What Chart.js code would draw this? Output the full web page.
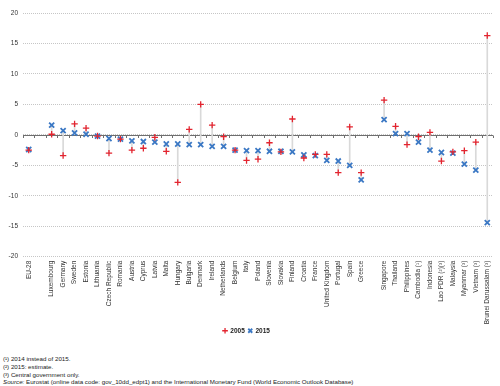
<!DOCTYPE html>
<html>
<head>
<meta charset="utf-8">
<script src="https://cdn.jsdelivr.net/npm/chart.js"></script>
<style>
  body { margin: 0; background: #fff; }
  #wrap { position: relative; width: 500px; height: 386px; font-family: Arial, "Liberation Sans", sans-serif; }
  #box { position: absolute; left: 0; top: 0; width: 500px; height: 344px; }
  .note { position: absolute; left: 3px; font-size: 6.2px; color: #222; white-space: nowrap; }
</style>
</head>
<body>
<div id="wrap">
  <div id="box"><canvas id="chart"></canvas></div>
  <div class="note" style="top:355px">(¹) 2014 instead of 2015.</div>
  <div class="note" style="top:363px">(²) 2015: estimate.</div>
  <div class="note" style="top:370.5px">(³) Central government only.</div>
  <div class="note" style="top:378px"><i>Source:</i> Eurostat (online data code: gov_10dd_edpt1) and the International Monetary Fund (World Economic Outlook Database)</div>
</div>
<script>
// categories, with blank slots separating the groups
const categories = ['EU-28', '', 'Luxembourg', 'Germany', 'Sweden', 'Estonia', 'Lithuania', 'Czech Republic',
  'Romania', 'Austria', 'Cyprus', 'Latvia', 'Malta', 'Hungary', 'Bulgaria', 'Denmark', 'Ireland', 'Netherlands',
  'Belgium', 'Italy', 'Poland', 'Slovenia', 'Slovakia', 'Finland', 'Croatia', 'France', 'United Kingdom',
  'Portugal', 'Spain', 'Greece', ' ', 'Singapore', 'Thailand', 'Philippines', 'Cambodia (¹)', 'Indonesia',
  'Lao PDR (²)(³)', 'Malaysia', 'Myanmar (³)', 'Vietnam (³)', 'Brunei Darussalam (³)'];

const values2005 = [-2.5, null, 0.1, -3.4, 1.8, 1.1, -0.2, -3.0, -0.7, -2.5, -2.2, -0.4, -2.7, -7.8, 0.9, 5.0,
  1.6, -0.3, -2.5, -4.2, -4.0, -1.3, -2.8, 2.6, -3.8, -3.2, -3.2, -6.2, 1.3, -6.2, null, 5.7, 1.4, -1.6, -0.3,
  0.4, -4.3, -2.8, -2.6, -1.2, 16.3];

const values2015 = [-2.4, null, 1.6, 0.7, 0.3, 0.1, -0.2, -0.6, -0.7, -1.0, -1.1, -1.2, -1.5, -1.5, -1.6, -1.6,
  -1.9, -1.9, -2.5, -2.6, -2.6, -2.7, -2.7, -2.8, -3.3, -3.4, -4.2, -4.3, -5.0, -7.4, null, 2.5, 0.2, 0.2, -1.2,
  -2.5, -2.9, -3.0, -4.8, -5.8, -14.4];

const yTicks = [-20, -15, -10, -5, 0, 5, 10, 15, 20];

const FONT = 'Arial, "Liberation Sans", sans-serif';

// grey stems between the two years
const ranges = values2005.map((v, i) => (v === null ? null : [v, values2015[i]]));

// solid zero line with small tick marks hanging under it
const zeroLine = {
  id: 'zeroLine',
  beforeDatasetsDraw(chart) {
    const x = chart.scales.x, y = chart.scales.y;
    const y0 = Math.round(y.getPixelForValue(0)) + 0.5;
    const step = (x.right - x.left) / categories.length;
    const ctx = chart.ctx;
    ctx.save();
    ctx.strokeStyle = '#6e6e6e';
    ctx.lineWidth = 1;
    ctx.beginPath();
    ctx.moveTo(x.left, y0);
    ctx.lineTo(x.right, y0);
    for (let i = 0; i <= categories.length; i++) {
      const px = Math.round(x.left + i * step) + 0.5;
      ctx.moveTo(px, y0);
      ctx.lineTo(px, y0 + 2.5);
    }
    ctx.stroke();
    ctx.restore();
  }
};

new Chart(document.getElementById('chart'), {
  data: {
    labels: categories,
    datasets: [
      {
        type: 'line',
        label: '2005',
        data: values2005,
        showLine: false,
        pointStyle: 'cross',
        pointRadius: 3.2,
        pointBorderWidth: 1.3,
        borderColor: '#e3242f',
        backgroundColor: '#e3242f',
        order: 1
      },
      {
        type: 'line',
        label: '2015',
        data: values2015,
        showLine: false,
        pointStyle: 'crossRot',
        pointRadius: 3.6,
        pointBorderWidth: 1.8,
        borderColor: '#3b78c4',
        backgroundColor: '#3b78c4',
        order: 2
      },
      {
        type: 'bar',
        label: 'range',
        data: ranges,
        backgroundColor: '#d9d9d9',
        barThickness: 1,
        order: 3
      }
    ]
  },
  options: {
    responsive: true,
    maintainAspectRatio: false,
    animation: false,
    layout: { padding: { top: 13, right: 7, left: 0, bottom: 0 } },
    plugins: {
      tooltip: { enabled: false },
      legend: {
        position: 'bottom',
        labels: {
          filter: item => item.text !== 'range',
          usePointStyle: true,
          boxWidth: 4,
          boxHeight: 4,
          padding: 3.5,
          color: '#222',
          font: { family: FONT, size: 6.5, weight: 'bold' }
        }
      }
    },
    scales: {
      x: {
        offset: true,
        grid: { display: false, drawTicks: false },
        border: { display: false },
        ticks: {
          autoSkip: false,
          maxRotation: 90,
          minRotation: 90,
          padding: 4,
          color: '#333',
          font: { family: FONT, size: 6.5 }
        },
        afterFit(scale) { scale.height = 67.3; }
      },
      y: {
        min: -20,
        max: 20,
        afterBuildTicks(scale) { scale.ticks = yTicks.map(v => ({ value: v })); },
        grid: {
          drawTicks: false,
          color: '#c6c6c6',
          lineWidth: 1
        },
        border: { display: false, dash: [1, 1] },
        ticks: {
          padding: 5,
          color: '#333',
          font: { family: FONT, size: 6.5 }
        },
        afterFit(scale) { scale.width = 23; }
      }
    }
  },
  plugins: [zeroLine]
});
</script>
</body>
</html>
